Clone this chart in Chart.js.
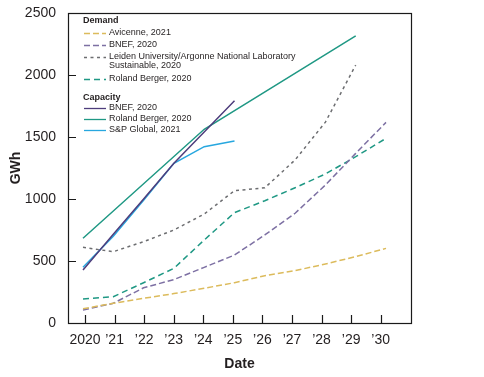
<!DOCTYPE html>
<html>
<head>
<meta charset="utf-8">
<script src="https://cdn.jsdelivr.net/npm/chart.js@4"></script>
<style>
  html, body { margin: 0; padding: 0; background: #fff; }
  #wrap { width: 484px; height: 377px; position: relative; }
</style>
</head>
<body>
<div id="wrap"><canvas id="c" width="484" height="377"></canvas></div>
<script>
// ---- data ----
const years = [2020, 2021, 2022, 2023, 2024, 2025, 2026, 2027, 2028, 2029, 2030];
const tickLabels = ['2020', '\u201921', '\u201922', '\u201923', '\u201924', '\u201925', '\u201926', '\u201927', '\u201928', '\u201929', '\u201930'];

const avicenneDemand = [115, 159, 199, 237, 280, 325, 381, 422, 476, 535, 602];
const bnefDemand     = [105, 159, 284, 350, 449, 548, 710, 885, 1113, 1368, 1618];
const leidenYears    = [2020, 2021, 2022, 2023, 2024, 2025, 2026, 2027, 2028, 2029];
const leidenDemand   = [610, 575, 656, 750, 879, 1067, 1090, 1315, 1620, 2080];
const rolandDemand   = [194, 212, 325, 441, 669, 890, 986, 1091, 1202, 1341, 1489];

const bnefCapYears   = [2020, 2021, 2022, 2023, 2024, 2025];
const bnefCapacity   = [427, 715, 1000, 1288, 1540, 1793];
const rolandCapYears = [2020, 2024, 2029];
const rolandCapacity = [683, 1562, 2315];
const spCapYears     = [2020, 2021, 2022, 2023, 2024, 2025];
const spCapacity     = [449, 700, 990, 1288, 1422, 1468];

const yTicks = [0, 500, 1000, 1500, 2000, 2500];

const legendGroups = [
  { title: 'Demand', items: [
    { ds: 0, lines: ['Avicenne, 2021'] },
    { ds: 1, lines: ['BNEF, 2020'] },
    { ds: 2, lines: ['Leiden University/Argonne National Laboratory', 'Sustainable, 2020'] },
    { ds: 3, lines: ['Roland Berger, 2020'] }
  ]},
  { title: 'Capacity', items: [
    { ds: 4, lines: ['BNEF, 2020'] },
    { ds: 5, lines: ['Roland Berger, 2020'] },
    { ds: 6, lines: ['S&P Global, 2021'] }
  ]}
];

const pts = (xs, ys) => xs.map((x, i) => ({ x: x, y: ys[i] }));

const FONT = '"Liberation Sans", Arial, Helvetica, sans-serif';
const TXT = '#231f20';

const boxAndTicks = {
  id: 'boxAndTicks',
  afterDraw(chart) {
    const ctx = chart.ctx;
    const a = chart.chartArea;
    ctx.save();
    ctx.strokeStyle = '#1a1a1a';
    ctx.lineWidth = 1.2;
    ctx.strokeRect(Math.round(a.left) + 0.5, Math.round(a.top) + 0.5,
                   Math.round(a.right - a.left), Math.round(a.bottom - a.top));
    const xs = chart.scales.xt;
    ctx.beginPath();
    xs.ticks.forEach((t, i) => {
      const px = Math.round(xs.getPixelForTick(i)) + 0.5;
      ctx.moveTo(px, a.bottom);
      ctx.lineTo(px, a.bottom - 8);
    });
    const ys = chart.scales.y;
    ys.ticks.forEach((t, i) => {
      const py = Math.round(ys.getPixelForTick(i)) + 0.5;
      ctx.moveTo(a.left, py);
      ctx.lineTo(a.left + 8, py);
    });
    ctx.stroke();

    // legend
    const lx0 = a.left + 16, lx1 = a.left + 38, tx = a.left + 41;
    const rows = [8, 19.5, 31.5, 43.5, 65.5, 84.5, 95, 106, 117];
    let r = 0;
    ctx.textBaseline = 'middle';
    ctx.textAlign = 'left';
    legendGroups.forEach(g => {
      ctx.font = 'bold 9px ' + FONT;
      ctx.fillStyle = TXT;
      ctx.fillText(g.title, a.left + 15, a.top + rows[r]);
      r++;
      g.items.forEach(it => {
        const ds = chart.data.datasets[it.ds];
        const y = a.top + rows[r];
        ctx.save();
        ctx.strokeStyle = ds.borderColor;
        ctx.lineWidth = 1.3;
        ctx.setLineDash(ds.borderDash || []);
        ctx.beginPath();
        ctx.moveTo(lx0, Math.round(y) + 0.5);
        ctx.lineTo(lx1, Math.round(y) + 0.5);
        ctx.stroke();
        ctx.restore();
        ctx.font = '9px ' + FONT;
        ctx.fillStyle = TXT;
        it.lines.forEach((ln, k) => ctx.fillText(ln, tx, y + k * 9.5));
        r++;
      });
    });
    ctx.restore();
  }
};

const common = { fill: false, pointRadius: 0, borderWidth: 1.5, tension: 0, xAxisID: 'x', yAxisID: 'y' };

new Chart(document.getElementById('c'), {
  type: 'line',
  data: {
    datasets: [
      Object.assign({ label: 'Avicenne, 2021', data: pts(years, avicenneDemand), borderColor: '#dcbb5c', borderDash: [6, 3] }, common),
      Object.assign({ label: 'BNEF, 2020', data: pts(years, bnefDemand), borderColor: '#7d70a3', borderDash: [6, 3] }, common),
      Object.assign({ label: 'Leiden University/Argonne National Laboratory Sustainable, 2020', data: pts(leidenYears, leidenDemand), borderColor: '#6d6e71', borderDash: [3, 3.5] }, common),
      Object.assign({ label: 'Roland Berger, 2020', data: pts(years, rolandDemand), borderColor: '#1f9884', borderDash: [6, 4] }, common),
      Object.assign({ label: 'BNEF, 2020', data: pts(bnefCapYears, bnefCapacity), borderColor: '#4e3d7c' }, common),
      Object.assign({ label: 'Roland Berger, 2020', data: pts(rolandCapYears, rolandCapacity), borderColor: '#1f9884' }, common),
      Object.assign({ label: 'S&P Global, 2021', data: pts(spCapYears, spCapacity), borderColor: '#27a7df' }, common)
    ]
  },
  options: {
    responsive: false,
    animation: false,
    layout: { padding: { top: 13, right: 73, left: 0, bottom: 0 } },
    plugins: { legend: { display: false }, tooltip: { enabled: false } },
    scales: {
      x: {
        type: 'linear', display: false, min: 2019.505, max: 2030.825
      },
      xt: {
        type: 'linear', position: 'bottom', min: 2019.425, max: 2031.025,
        grid: { display: false }, border: { display: false },
        afterBuildTicks: s => { s.ticks = years.map(v => ({ value: v })); },
        afterFit: s => { s.height = 54; },
        ticks: {
          autoSkip: false, maxRotation: 0, padding: 1, color: TXT,
          font: { family: FONT, size: 14 },
          callback: (v, i) => tickLabels[i]
        },
        title: { display: true, text: 'Date', color: TXT, font: { family: FONT, size: 14, weight: 'bold' }, padding: { top: 0, bottom: 4 } }
      },
      y: {
        type: 'linear', min: 0, max: 2500,
        grid: { display: false }, border: { display: false },
        afterBuildTicks: s => { s.ticks = yTicks.map(v => ({ value: v })); },
        afterFit: s => { s.width = 68; },
        ticks: { padding: 4, color: TXT, font: { family: FONT, size: 14 }, callback: v => String(v) },
        title: { display: true, text: 'GWh', color: TXT, font: { family: FONT, size: 14, weight: 'bold' }, padding: { top: 8, bottom: 0 } }
      }
    }
  },
  plugins: [boxAndTicks]
});
</script>
</body>
</html>
